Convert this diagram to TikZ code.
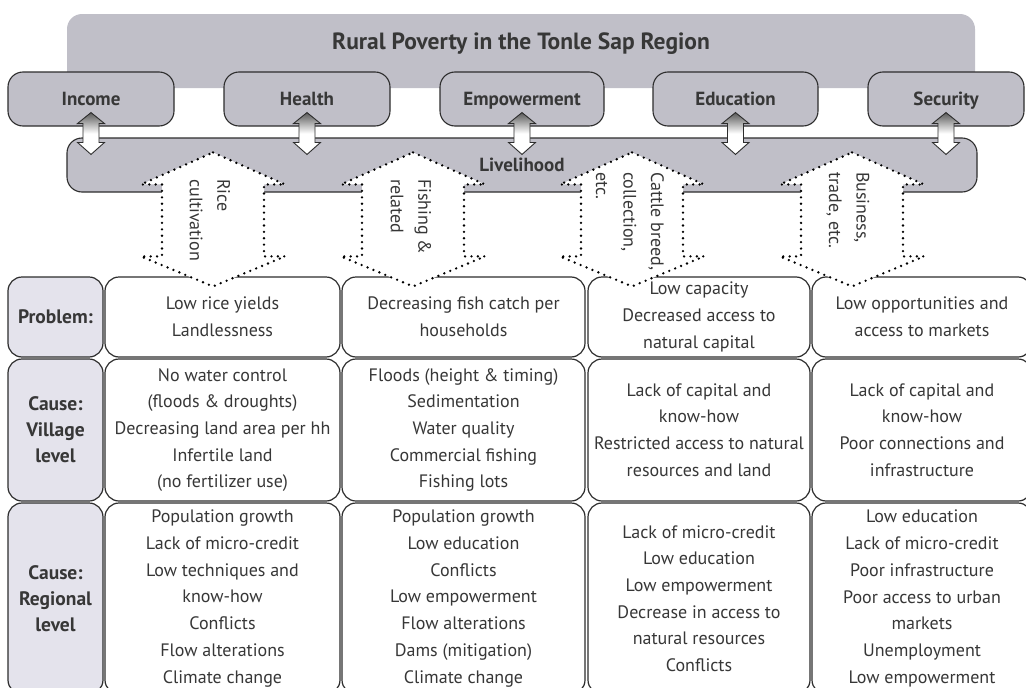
\documentclass[tikz,border=0pt]{standalone}
\usepackage{fontspec}
\setmainfont{PT Sans}
\usetikzlibrary{calc}

\definecolor{boxgray}{RGB}{192,191,200}
\definecolor{labelfill}{RGB}{228,227,236}
\definecolor{linec}{RGB}{45,45,45}
\definecolor{textc}{RGB}{55,55,55}

\tikzset{
	topbox/.style={draw=linec,line width=1.1pt,fill=boxgray,rounded corners=15pt,minimum height=54pt,inner sep=0pt,text height=13pt,text depth=0pt,font=\fontsize{19}{22}\selectfont\bfseries,text=textc},
	cell/.style={draw=linec,line width=1.2pt,fill=white,rounded corners=14pt,inner sep=0pt,align=center,font=\fontsize{18}{26.7}\selectfont,text=textc},
	rowlabel/.style={cell,fill=labelfill,minimum width=95pt,font=\fontsize{19.5}{26}\selectfont\bfseries},
	linkarrow/.style={draw=linec,line width=0.9pt,top color=black!65,bottom color=white,middle color=white},
	dotarrow/.style={fill=white,draw=black,line width=2.6pt,dash pattern=on 0pt off 6.4pt,line cap=round,line join=round},
	armtext/.style={rotate=-90,anchor=west,align=left,inner sep=0pt,font=\fontsize{18}{27.5}\selectfont,text=textc}
}

% white double arrow with gradient between two boxes
\newcommand{\linkpair}[2]{%
	\draw[linkarrow] let \p1=(#1.south), \p2=(#2.north) in
	(\x1,\y1+14pt) -- ++(13.5pt,-11pt) -- ++(-5.5pt,0pt) -- (\x1+8pt,\y2-5pt) -- ++(5.5pt,0pt) -- (\x1,\y2-17pt) -- ++(-13.5pt,12pt) -- ++(5.5pt,0pt) -- (\x1-8pt,\y1+3pt) -- ++(-5.5pt,0pt) -- cycle;}

% dotted double arrow from the livelihood box into a problem cell
\newcommand{\livearrow}[3]{%
	\draw[dotarrow] let \p1=(#2.north), \p2=(#3.north) in
	(#1pt,\y1-15pt) -- (#1pt+72pt,\y1-47pt) -- (#1pt+51pt,\y1-47pt) -- (#1pt+51pt,\y2+20pt) -- (#1pt+72pt,\y2+20pt) -- (#1pt,\y2-10pt) -- (#1pt-72pt,\y2+20pt) -- (#1pt-51pt,\y2+20pt) -- (#1pt-51pt,\y1-47pt) -- (#1pt-72pt,\y1-47pt) -- cycle;}

\begin{document}
\begin{tikzpicture}[x=1pt,y=-1pt]
	\useasboundingbox (0,0) rectangle (1026,688);
	\clip (0,0) rectangle (1026,688);
	
	\fill[boxgray,rounded corners=15pt] (67,14) rectangle (975,88);
	\node[font=\fontsize{23.5}{28}\selectfont\bfseries,text=textc] (title) at (521,44) {Rural Poverty in the Tonle Sap Region};
	
	\node[topbox,minimum width=166pt] (inc) at (91,99) {Income};
	\node[topbox,minimum width=166pt] (hea) at (307,99) {Health};
	\node[topbox,minimum width=164pt] (emp) at (522,99) {Empowerment};
	\node[topbox,minimum width=165pt] (edu) at (735.5,99) {Education};
	\node[topbox,minimum width=156pt] (sec) at (946,99) {Security};
	
	\node[topbox,minimum width=910pt] (live) at (522,165) {Livelihood};
	
	\linkpair{inc}{live}
	\linkpair{hea}{live}
	\linkpair{emp}{live}
	\linkpair{edu}{live}
	\linkpair{sec}{live}
	
	% problem row
	\node[rowlabel,minimum height=80pt] (prob) at (55.5,317) {Problem:};
	\node[cell,minimum width=235pt,minimum height=80pt] (p1) at (222.5,317) {Low rice yields\\Landlessness};
	\node[cell,minimum width=243pt,minimum height=80pt] (p2) at (463.5,317) {Decreasing fish catch per\\households};
	\node[cell,minimum width=222pt,minimum height=80pt] (p3) at (699,317) {Low capacity\\Decreased access to\\natural capital};
	\node[cell,minimum width=220pt,minimum height=80pt] (p4) at (922,317) {Low opportunities and\\access to markets};
	
	% village row
	\node[rowlabel,minimum height=142pt] (vil) at (55.5,430) {Cause:\\Village\\level};
	\node[cell,minimum width=235pt,minimum height=142pt] (v1) at (222.5,430) {No water control\\(floods \& droughts)\\Decreasing land area per hh\\Infertile land\\(no fertilizer use)};
	\node[cell,minimum width=243pt,minimum height=142pt] (v2) at (463.5,430) {Floods (height \& timing)\\Sedimentation\\Water quality\\Commercial fishing\\Fishing lots};
	\node[cell,minimum width=222pt,minimum height=142pt] (v3) at (699,430) {Lack of capital and\\know-how\\Restricted access to natural\\resources and land};
	\node[cell,minimum width=220pt,minimum height=142pt] (v4) at (922,430) {Lack of capital and\\know-how\\Poor connections and\\infrastructure};
	
	% regional row
	\node[rowlabel,minimum height=191pt] (reg) at (55.5,598.5) {Cause:\\Regional\\level};
	\node[cell,minimum width=235pt,minimum height=191pt] (g1) at (222.5,598.5) {Population growth\\Lack of micro-credit\\Low techniques and\\know-how\\Conflicts\\Flow alterations\\Climate change};
	\node[cell,minimum width=243pt,minimum height=191pt] (g2) at (463.5,598.5) {Population growth\\Low education\\Conflicts\\Low empowerment\\Flow alterations\\Dams (mitigation)\\Climate change};
	\node[cell,minimum width=222pt,minimum height=191pt] (g3) at (699,598.5) {Lack of micro-credit\\Low education\\Low empowerment\\Decrease in access to\\natural resources\\Conflicts};
	\node[cell,minimum width=220pt,minimum height=191pt] (g4) at (922,598.5) {Low education\\Lack of micro-credit\\Poor infrastructure\\Poor access to urban\\markets\\Unemployment\\Low empowerment};
	
	\livearrow{213}{live}{p1}
	\livearrow{413}{live}{p2}
	\livearrow{632}{live}{p3}
	\livearrow{852}{live}{p4}
	
	\node[armtext] (rice) at (210,179) {Rice\\cultivation};
	\node[armtext] (fish) at (411,179) {Fishing \&\\related};
	\node[armtext] (cattle) at (630,172) {Cattle breed,\\collection,\\etc.};
	\node[armtext] (trade) at (848,172) {Business,\\trade, etc.};
\end{tikzpicture}
\end{document}
